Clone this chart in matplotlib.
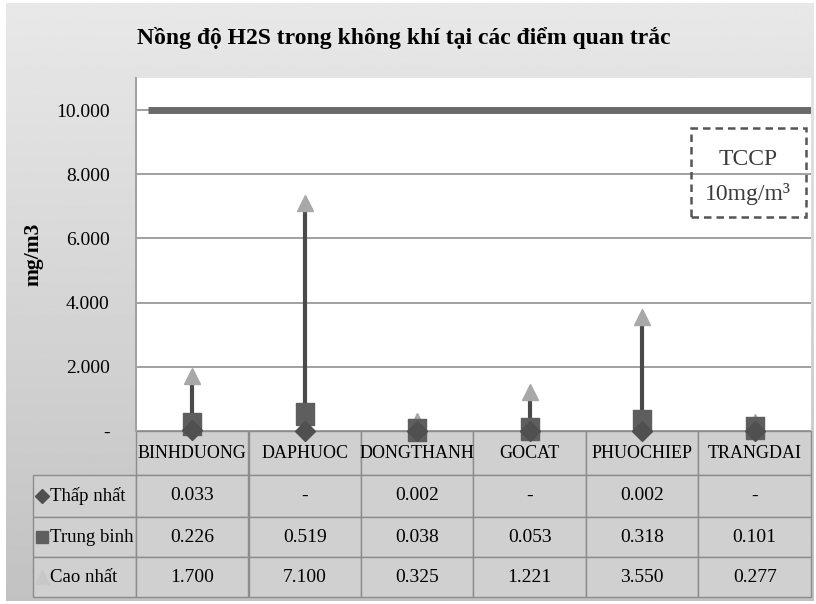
import numpy as np
import matplotlib
matplotlib.use("Agg")
import matplotlib.pyplot as plt
from matplotlib.patches import Rectangle
from matplotlib.ticker import FuncFormatter

plt.rcParams["font.family"] = ["Liberation Serif", "DejaVu Serif"]

TITLE = "Nồng độ H2S trong không khí tại các điểm quan trắc"
stations = ["BINHDUONG", "DAPHUOC", "DONGTHANH", "GOCAT", "PHUOCHIEP", "TRANGDAI"]
row_names = ["Thấp nhất", "Trung binh", "Cao nhất"]
low_vals = [0.033, 0.0, 0.002, 0.0, 0.002, 0.0]
mean_vals = [0.226, 0.519, 0.038, 0.053, 0.318, 0.101]
high_vals = [1.700, 7.100, 0.325, 1.221, 3.550, 0.277]
limit_value = 10.0
y_ticks = [0, 2, 4, 6, 8, 10]

LINE_C = "#4a4a4a"
LOW_C = "#505050"
MEAN_C = "#5e5e5e"
HIGH_C = "#a8a8a8"
GRID_C = "#a0a0a0"
CELL_C = "#d0d0d0"
EDGE_C = "#8c8c8c"

# slightly tall rectangle for the mean marker
TALL_SQUARE = [(-0.8, -1), (0.8, -1), (0.8, 1), (-0.8, 1), (-0.8, -1)]


def fmt(v):
    return "-" if v == 0 else f"{v:.3f}"


W, H = 816, 604
fig = plt.figure(figsize=(W / 100, H / 100), dpi=100)
fig.patch.set_facecolor("white")

# gray gradient backdrop behind the whole chart
bg = fig.add_axes([6 / W, 3 / H, 808 / W, 598 / H], zorder=-10)
grad = np.linspace(0.91, 0.76, 256).reshape(-1, 1)
bg.imshow(grad, cmap="gray", vmin=0, vmax=1, aspect="auto", extent=[0, 1, 0, 1])
bg.axis("off")

left, right, top, bottom = 136, 811, 78, 431
ax = fig.add_axes([left / W, 1 - bottom / H, (right - left) / W, (bottom - top) / H])
ax.set_facecolor("white")

x = np.arange(len(stations))
ax.set_xlim(-0.5, len(stations) - 0.5)
ax.set_ylim(0, 11)
ax.set_yticks(y_ticks)
ax.yaxis.set_major_formatter(FuncFormatter(lambda v, p: fmt(v)))
ax.tick_params(axis="y", length=0, pad=19, labelsize=14)
ax.set_xticks([])
ax.grid(axis="y", color=GRID_C, lw=1.4)
ax.set_axisbelow(True)
for side in ["top", "right", "bottom"]:
    ax.spines[side].set_visible(False)
ax.spines["left"].set_color(GRID_C)
ax.spines["left"].set_linewidth(1.4)

# permissible limit line
ax.hlines(limit_value, -0.39, len(stations) - 0.5, color="#6a6a6a", lw=5, zorder=3)

# high-low lines with min / mean / max markers
ax.vlines(x, low_vals, high_vals, color=LINE_C, lw=3, zorder=4)
ax.plot(x, high_vals, ls="none", marker="^", ms=12, color=HIGH_C, zorder=5, clip_on=False)
ax.plot(x, mean_vals, ls="none", marker=TALL_SQUARE, ms=16, color=MEAN_C, zorder=6,
        clip_on=False)
ax.plot(x, low_vals, ls="none", marker="D", ms=10, color=LOW_C, zorder=7, clip_on=False)

ax.set_ylabel("mg/m3", fontsize=15.5, fontweight="bold")
ax.yaxis.set_label_coords(-0.137, 0.5)

fig.text(0.495, 1 - 38 / H, TITLE, ha="center", va="center", fontsize=17, fontweight="bold")

# limit annotation box
ax.add_patch(Rectangle((0.822, 0.607), 0.171, 0.252, transform=ax.transAxes, fill=False,
                       ls=(0, (3, 2)), lw=1.8, edgecolor="#555555", zorder=8))
ax.text(0.907, 0.768, "TCCP", transform=ax.transAxes, ha="center", va="center",
        fontsize=17, color="#3c3c3c", zorder=9)
ax.text(0.907, 0.672, "10mg/m³", transform=ax.transAxes, ha="center", va="center",
        fontsize=17, color="#3c3c3c", zorder=9)

# data table under the plot
tr = ax.get_xaxis_transform()
span = bottom - top
row_edges = [(bottom - p) / span for p in (431, 475, 517, 557, 597)]
label_left = -0.5 + (33 - left) / ((right - left) / len(stations))

for i, name in enumerate(stations):
    y0, y1 = row_edges[1], row_edges[0]
    ax.add_patch(Rectangle((i - 0.5, y0), 1, y1 - y0, transform=tr, clip_on=False,
                           facecolor=CELL_C, edgecolor=EDGE_C, lw=1))
    ax.text(i, (y0 + y1) / 2, name, transform=tr, ha="center", va="center", fontsize=13)

rows = [low_vals, mean_vals, high_vals]
markers = [("D", LOW_C, 7), ("s", MEAN_C, 9), ("^", "#c8c8c8", 10)]
for r, vals in enumerate(rows):
    y0, y1 = row_edges[r + 2], row_edges[r + 1]
    yc = (y0 + y1) / 2
    ax.add_patch(Rectangle((label_left, y0), -0.5 - label_left, y1 - y0, transform=tr,
                           clip_on=False, facecolor=CELL_C, edgecolor=EDGE_C, lw=1))
    m, c, s = markers[r]
    ax.plot([-1.336], [yc], transform=tr, marker=m, ms=s, color=c, clip_on=False)
    ax.text(-1.264, yc, row_names[r], transform=tr, ha="left", va="center", fontsize=13.5)
    for i, v in enumerate(vals):
        ax.add_patch(Rectangle((i - 0.5, y0), 1, y1 - y0, transform=tr, clip_on=False,
                               facecolor=CELL_C, edgecolor=EDGE_C, lw=1))
        ax.text(i, yc, fmt(v), transform=tr, ha="center", va="center", fontsize=14)

fig.savefig("out.png", dpi=100)
